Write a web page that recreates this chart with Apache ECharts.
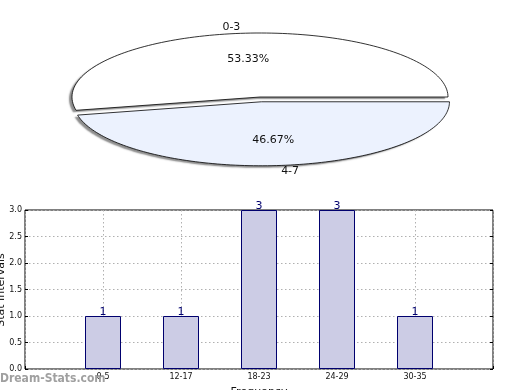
<!DOCTYPE html>
<html>
<head>
<meta charset="utf-8">
<script src="https://cdn.jsdelivr.net/npm/echarts@6/dist/echarts.min.js"></script>
<style>html,body{margin:0;padding:0;background:#fff;}#c{width:520px;height:390px;}</style>
</head>
<body>
<div id="c"></div>
<script>
// Data
const pieLabels = ['0-3', '4-7'];
const pieValues = [8, 7];
const barCategories = ['0-5', '12-17', '18-23', '24-29', '30-35'];
const barCounts = [1, 1, 3, 3, 1];
const yTickValues = [0, 0.5, 1, 1.5, 2, 2.5, 3];

const chart = echarts.init(document.getElementById('c'), null, {renderer: 'canvas'});
const FONT = '"DejaVu Sans", sans-serif';

// pie geometry (style/layout)
const PCX = 260, PCY = 97, PRX = 188, PRY = 64;
const explode = [0, 0.075];
const pieFills = ['#ffffff', '#ecf2fe'];

const total = pieValues.reduce((a, b) => a + b, 0);
function ellPt(theta, f, ox, oy) {
  return [PCX + ox + f * PRX * Math.cos(theta), PCY + oy - f * PRY * Math.sin(theta)];
}

function renderPie(params, api) {
  const i = params.dataIndex;
  let startVal = 0;
  for (let k = 0; k < i; k++) startVal += pieValues[k];
  const v = api.value(1);
  const a0 = startVal / total * Math.PI * 2;
  const a1 = (startVal + v) / total * Math.PI * 2;
  const mid = (a0 + a1) / 2;
  const ox = explode[i] * PRX * Math.cos(mid);
  const oy = -explode[i] * PRY * Math.sin(mid);
  const pts = [[PCX + ox, PCY + oy]];
  const N = 120;
  for (let s = 0; s <= N; s++) {
    pts.push(ellPt(a0 + (a1 - a0) * s / N, 1, ox, oy));
  }
  const edge = ellPt(mid, 1.0, ox, oy);
  const inner = ellPt(mid, 0.6, ox, oy);
  const up = Math.sin(mid) > 0;
  const left = Math.cos(mid) < 0;
  return {
    type: 'group',
    children: [
      {
        type: 'polygon',
        shape: {points: pts},
        style: {
          fill: pieFills[i], stroke: null,
          shadowBlur: 1.5, shadowColor: 'rgba(0,0,0,0.45)', shadowOffsetX: -3, shadowOffsetY: 2
        }
      },
      {
        type: 'polygon',
        shape: {points: pts},
        style: {fill: null, stroke: '#000', lineWidth: 0.8}
      },
      {
        type: 'text',
        style: {
          text: (v / total * 100).toFixed(2) + '%',
          x: inner[0], y: inner[1], align: 'center', verticalAlign: 'middle',
          fill: '#111', font: '11px ' + FONT
        }
      },
      {
        type: 'text',
        style: {
          text: pieLabels[i],
          x: edge[0], y: edge[1] + (up ? -1 : 0), align: left ? 'right' : 'left',
          verticalAlign: up ? 'bottom' : 'top',
          fill: '#111', font: '11px ' + FONT
        }
      }
    ]
  };
}

const axisCats = [''].concat(barCategories, ['']);
const barData = ['-'].concat(barCounts, ['-']);

chart.setOption({
  animation: false,
  backgroundColor: '#fff',
  grid: {left: 25, right: 27, top: 210, bottom: 21, outerBoundsMode: 'none', containLabel: false,
         show: true, borderColor: '#000', borderWidth: 1, backgroundColor: 'transparent'},
  xAxis: {
    type: 'category', data: axisCats, boundaryGap: false,
    axisLine: {show: false},
    axisTick: {show: true, inside: true, length: 3, lineStyle: {color: '#000'}, interval: 0},
    axisLabel: {interval: 0, fontSize: 8, color: '#111', fontFamily: FONT, margin: 4},
    splitLine: {show: true, interval: 0, lineStyle: {type: [1.5, 2.5], color: '#b0b0b0', width: 1}},
    name: 'Frequency', nameLocation: 'middle', nameGap: 18,
    nameTextStyle: {fontSize: 11, color: '#111', fontFamily: FONT}
  },
  yAxis: [{
    type: 'value', min: 0, max: 3, interval: 0.5,
    axisLine: {show: false},
    axisTick: {show: true, inside: true, length: 3, lineStyle: {color: '#000'}},
    axisLabel: {fontSize: 8, color: '#111', fontFamily: FONT, margin: 3, formatter: v => v.toFixed(1)},
    splitLine: {show: true, lineStyle: {type: [1.5, 2.5], color: '#b0b0b0', width: 1}}
  }, {
    type: 'value', min: 0, max: 3, interval: 0.5, position: 'right',
    axisLine: {show: false},
    axisTick: {show: true, inside: true, length: 3, lineStyle: {color: '#000'}},
    axisLabel: {show: false}, splitLine: {show: false}
  }],
  series: [
    {
      type: 'bar', data: barData, barWidth: 36, yAxisIndex: 0,
      itemStyle: {color: '#cccce5', borderColor: '#00006e', borderWidth: 1},
      label: {show: true, position: 'top', distance: -2, fontSize: 11, color: '#00006e', fontFamily: FONT}
    },
    {
      type: 'custom', coordinateSystem: 'none',
      data: pieValues.map((v, i) => [i, v]),
      renderItem: renderPie, silent: true
    }
  ],
  graphic: [{
    type: 'text', x: 1, y: 290, rotation: Math.PI / 2, z: 100,
    style: {text: 'Stat Intervals', fill: '#111', font: '11px ' + FONT, align: 'center', verticalAlign: 'middle'}
  }, {
    type: 'text', left: 0, top: 373, z: 100,
    style: {text: 'Dream-Stats.com', fill: '#a0a0a0', font: 'bold 12px "DejaVu Sans Condensed", "DejaVu Sans", sans-serif'}
  }]
});
</script>
</body>
</html>
